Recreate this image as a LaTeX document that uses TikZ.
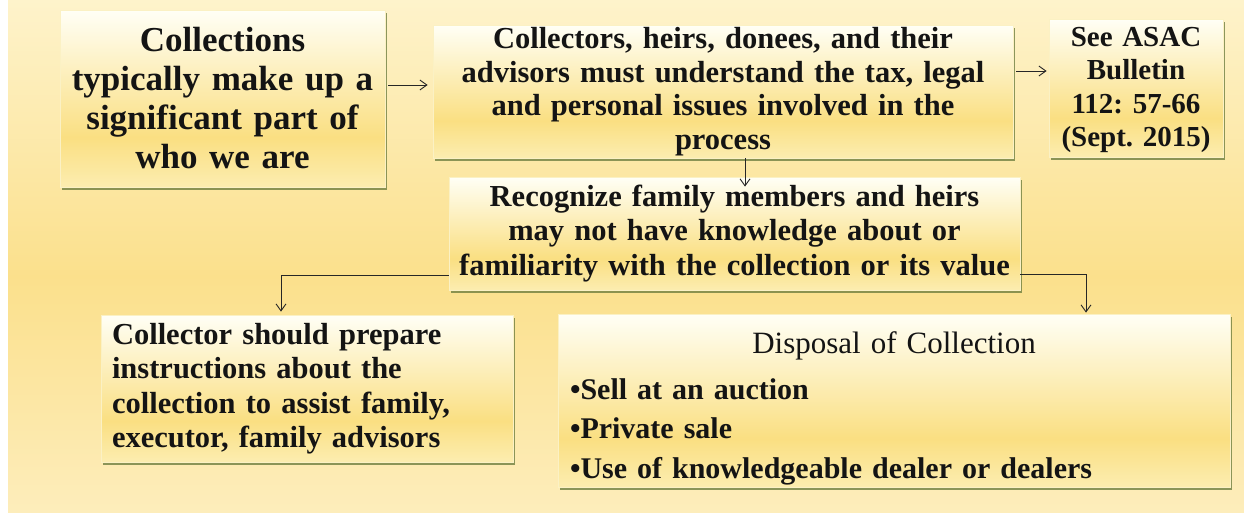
\documentclass[tikz,border=0pt]{standalone}
\usepackage{fontspec}
\setmainfont{Liberation Serif}
\usetikzlibrary{arrows.meta,shadows}
\frenchspacing

\definecolor{bgtop}{HTML}{FEF3CB}
\definecolor{bgmid}{HTML}{FBE08C}
\definecolor{bgbot}{HTML}{FDEDBB}
\definecolor{boxtop}{HTML}{FFFFF6}
\definecolor{boxmid}{HTML}{FADF82}
\definecolor{boxbot}{HTML}{FCEDB0}
\definecolor{boxedge}{HTML}{FBF1C4}
\definecolor{shadowcol}{HTML}{66783A}
\definecolor{inkcol}{HTML}{141414}

\pgfdeclareverticalshading{bgfade}{100bp}{color(0bp)=(bgbot); color(25bp)=(bgbot); color(48bp)=(bgmid); color(75bp)=(bgtop); color(100bp)=(bgtop)}
\pgfdeclareverticalshading{boxfade}{100bp}{color(0bp)=(boxbot); color(25bp)=(boxbot); color(39bp)=(boxmid); color(75bp)=(boxtop); color(100bp)=(boxtop)}

\begin{document}
\begin{tikzpicture}[x=1pt, y=-1pt,
  box/.style={shade, shading=boxfade, draw=boxedge, line width=0.8pt,
    drop shadow={shadow xshift=2pt, shadow yshift=-3pt, fill=shadowcol, opacity=0.75},
    inner xsep=10pt, inner ysep=0pt, align=center, text=inkcol},
  arr/.style={-{Straight Barb[length=7pt,width=10pt]}, line width=0.9pt, draw=black!85}]
\useasboundingbox (0,0) rectangle (1244,512);
\fill[white] (0,0) rectangle (1244,512);
\shade[shading=bgfade] (8,0) rectangle (1244,512);
\node[box, minimum width=325pt, minimum height=177pt, text width=305pt, font=\bfseries\fontsize{35}{39}\selectfont] (coll) at (222.5,98.5) {Collections\\ typically make up a\\ significant part of\\ who we are};
\node[box, minimum width=580pt, minimum height=133pt, text width=560pt, font=\bfseries\fontsize{30.5}{33.5}\selectfont] (advise) at (723,91.5) {Collectors, heirs, donees, and their\\ advisors must understand the tax, legal\\ and personal issues involved in the\\ process};
\node[box, minimum width=174pt, minimum height=138pt, text width=164pt, inner xsep=5pt, font=\bfseries\fontsize{29}{33.5}\selectfont] (asac) at (1136,88) {\strut See ASAC\\ Bulletin\\ 112: 57-66\\ (Sept. 2015)};
\node[box, minimum width=571pt, minimum height=113pt, text width=551pt, font=\bfseries\fontsize{30.5}{34.5}\selectfont] (recog) at (734.5,233.5) {Recognize family members and heirs\\ may not have knowledge about or\\ familiarity with the collection or its value};
\node[box, minimum width=412pt, minimum height=147pt, text width=390pt, inner xsep=11pt, align=left, font=\bfseries\fontsize{30.5}{34.5}\selectfont] (prep) at (307,388.5) {Collector should prepare\\ instructions about the\\ collection to assist family,\\ executor, family advisors};
\node[box, minimum width=672pt, minimum height=173pt, text width=648pt, inner xsep=12pt, align=left, font=\bfseries\fontsize{30}{39.5}\selectfont] (dispose) at (894,400.5) {\makebox[648pt][c]{\rule{0pt}{38pt}\mdseries\fontsize{31}{35}\selectfont Disposal of Collection}\\[6pt] •Sell at an auction\\ •Private sale\\ •Use of knowledgeable dealer or dealers};
\draw[arr, shorten <=3pt, shorten >=5pt] (coll.east |- 0,85) -- (advise.west |- 0,85);
\draw[arr, shorten <=3pt, shorten >=2pt] (advise.east |- 0,71) -- (asac.west |- 0,71);
\draw[arr, shorten >=-10pt] (advise.south -| 745,0) -- (recog.north -| 745,0);
\draw[arr, shorten >=3pt] (recog.west |- 0,275) -| (prep.north -| 281,0);
\draw[arr, shorten >=1pt] (recog.east |- 0,274) -| (dispose.north -| 1086,0);
\end{tikzpicture}
\end{document}
